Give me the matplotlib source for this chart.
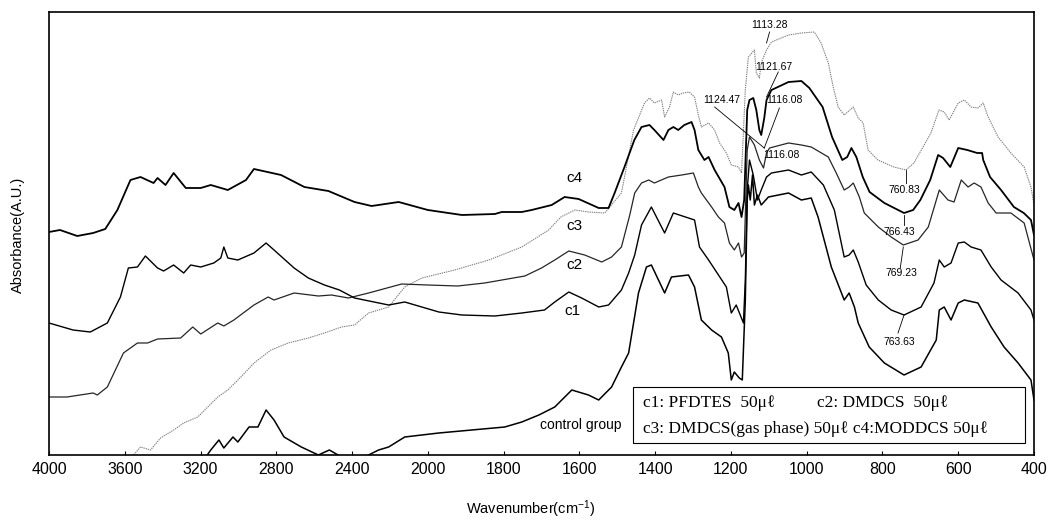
import numpy as np
import matplotlib
matplotlib.use("Agg")
from matplotlib import pyplot as plt
from matplotlib.patches import Rectangle

# spectra: wavenumber (cm-1) and absorbance (a.u.)
c4_wn = [4000, 3942, 3851, 3767, 3703, 3639, 3570, 3517, 3448, 3427, 3385, 3342, 3278, 3199, 3146,
         3056, 2960, 2918, 2775, 2652, 2525, 2387, 2297, 2154, 2000, 1910, 1823, 1805, 1752, 1726,
         1673, 1639, 1602, 1549, 1523, 1507, 1481, 1455, 1436, 1415, 1402, 1378, 1365, 1352, 1339,
         1323, 1304, 1296, 1286, 1270, 1259, 1243, 1217, 1204, 1191, 1180, 1172, 1165, 1157, 1151,
         1141, 1133, 1125, 1120, 1112, 1106, 1093, 1048, 1014, 993, 958, 933, 906, 893, 882, 869,
         852, 834, 795, 743, 719, 700, 674, 653, 640, 621, 600, 576, 550, 537, 534, 516, 487, 453,
         427, 408, 400]
c4_abs = [2.23, 2.25, 2.19, 2.22, 2.26, 2.45, 2.75, 2.78, 2.72, 2.77, 2.70, 2.82, 2.67, 2.67, 2.70,
          2.65, 2.75, 2.86, 2.80, 2.68, 2.64, 2.53, 2.49, 2.53, 2.45, 2.40, 2.41, 2.43, 2.43, 2.45,
          2.50, 2.58, 2.56, 2.47, 2.47, 2.62, 2.88, 3.15, 3.28, 3.30, 3.25, 3.15, 3.25, 3.28, 3.25,
          3.30, 3.33, 3.25, 3.05, 2.95, 2.98, 2.85, 2.68, 2.48, 2.45, 2.52, 2.38, 2.55, 3.45, 3.55,
          3.57, 3.45, 3.25, 3.20, 3.37, 3.55, 3.65, 3.73, 3.74, 3.67, 3.48, 3.18, 2.95, 2.98, 3.07, 2.98,
          2.78, 2.63, 2.52, 2.42, 2.45, 2.55, 2.75, 3.00, 2.97, 2.88, 3.07, 3.05, 3.02, 3.02, 2.95, 2.78, 2.65, 2.48,
          2.42, 2.35, 2.20]

c3_wn = [3597, 3554, 3517, 3464, 3411, 3342, 3289, 3215, 3162, 3109, 3056, 2987, 2918, 2828, 2737,
         2631, 2546, 2456, 2387, 2313, 2207, 2122, 2032, 1929, 1839, 1752, 1681, 1649, 1612, 1576,
         1533, 1489, 1457, 1428, 1415, 1402, 1383, 1375, 1362, 1352, 1339, 1326, 1310, 1296, 1286,
         1278, 1259, 1243, 1230, 1212, 1199, 1180, 1172, 1162, 1154, 1138, 1133, 1125, 1120, 1106,
         1093, 1048, 1014, 980, 962, 943, 930, 917, 901, 877, 864, 851, 838, 812, 770, 738, 717, 693,
         672, 651, 637, 624, 600, 584, 566, 548, 534, 521, 495, 461, 426, 408, 400]
c3_abs = [-0.10, 0.00, 0.08, 0.05, 0.17, 0.25, 0.32, 0.38, 0.48, 0.58, 0.65, 0.78, 0.92, 1.05, 1.12,
          1.17, 1.22, 1.28, 1.30, 1.42, 1.48, 1.68, 1.77, 1.85, 1.95, 2.08, 2.25, 2.38, 2.45, 2.43,
          2.42, 2.62, 3.25, 3.52, 3.57, 3.52, 3.55, 3.38, 3.48, 3.63, 3.60, 3.62, 3.63, 3.58, 3.40,
          3.28, 3.32, 3.25, 3.12, 3.02, 2.90, 2.88, 2.82, 3.65, 3.98, 4.05, 3.82, 3.77, 3.92, 4.05,
          4.13, 4.20, 4.22, 4.23, 4.12, 3.92, 3.68, 3.48, 3.40, 3.48, 3.37, 3.32, 3.05, 2.95, 2.88, 2.85, 2.92, 3.08,
          3.22, 3.45, 3.43, 3.35, 3.52, 3.55, 3.48, 3.47, 3.52, 3.38, 3.18, 3.02, 2.88, 2.68, 2.50]

c2_wn = [4000, 3905, 3767, 3745, 3692, 3607, 3533, 3480, 3427, 3305, 3241, 3199, 3109, 3077, 3024,
         2918, 2843, 2812, 2706, 2578, 2509, 2419, 2313, 2138, 2000, 1921, 1850, 1744, 1700, 1665,
         1628, 1586, 1541, 1515, 1489, 1467, 1454, 1436, 1417, 1402, 1365, 1330, 1299, 1286, 1278,
         1251, 1233, 1217, 1204, 1191, 1180, 1172, 1165, 1157, 1151, 1146, 1138, 1125, 1114, 1106,
         1098, 1048, 1014, 988, 943, 922, 901, 888, 877, 861, 848, 811, 777, 745, 706, 679, 650, 627,
         611, 592, 574, 558, 540, 521, 500, 461, 426, 400]
c2_abs = [0.58, 0.58, 0.62, 0.60, 0.68, 1.02, 1.12, 1.12, 1.16, 1.17, 1.28, 1.21, 1.32, 1.29, 1.35,
          1.50, 1.58, 1.55, 1.62, 1.59, 1.60, 1.57, 1.62, 1.71, 1.70, 1.69, 1.72, 1.79, 1.87, 1.95,
          2.04, 2.00, 1.93, 1.98, 2.08, 2.40, 2.62, 2.72, 2.75, 2.72, 2.78, 2.80, 2.82, 2.68, 2.62,
          2.48, 2.38, 2.32, 2.12, 2.05, 2.12, 1.98, 2.02, 3.05, 3.18, 3.15, 3.10, 2.95, 2.87, 3.02,
          3.07, 3.12, 3.10, 3.08, 2.98, 2.82, 2.65, 2.68, 2.72, 2.58, 2.42, 2.28, 2.18, 2.10, 2.15, 2.28, 2.65, 2.55,
          2.53, 2.75, 2.68, 2.72, 2.68, 2.52, 2.42, 2.42, 2.32, 1.95]

c1_wn = [4000, 3873, 3782, 3692, 3623, 3581, 3533, 3491, 3427, 3395, 3342, 3289, 3252, 3199, 3130,
         3093, 3077, 3056, 3003, 2918, 2854, 2812, 2706, 2631, 2546, 2467, 2387, 2207, 2122, 1971,
         1910, 1823, 1752, 1692, 1665, 1628, 1594, 1549, 1523, 1489, 1470, 1454, 1436, 1410, 1375,
         1352, 1296, 1283, 1259, 1212, 1199, 1186, 1167, 1162, 1157, 1151, 1141, 1130, 1120, 1106,
         1093, 1048, 1014, 988, 956, 927, 901, 888, 877, 864, 843, 811, 777, 743, 698, 664, 650, 637,
         619, 600, 584, 566, 540, 513, 487, 442, 408, 400]
c1_abs = [1.32, 1.25, 1.23, 1.32, 1.58, 1.87, 1.88, 1.99, 1.87, 1.84, 1.90, 1.82, 1.90, 1.88, 1.92,
          1.97, 2.08, 1.97, 1.95, 2.02, 2.12, 2.05, 1.87, 1.77, 1.70, 1.65, 1.57, 1.50, 1.53, 1.43,
          1.40, 1.39, 1.42, 1.45, 1.53, 1.63, 1.57, 1.48, 1.50, 1.65, 1.82, 2.00, 2.30, 2.48, 2.22,
          2.42, 2.35, 2.08, 1.95, 1.68, 1.42, 1.50, 1.32, 1.75, 2.65, 2.95, 2.80, 2.55, 2.65, 2.78,
          2.82, 2.85, 2.80, 2.83, 2.70, 2.45, 1.98, 2.00, 2.05, 1.93, 1.70, 1.55, 1.45, 1.40, 1.48, 1.72, 1.95, 1.88,
          1.92, 2.12, 2.13, 2.08, 2.05, 1.88, 1.75, 1.62, 1.45, 1.35]

ctrl_wn = [3225, 3172, 3146, 3103, 3077, 3029, 3003, 2944, 2897, 2854, 2812, 2759, 2668, 2578, 2520,
           2456, 2387, 2313, 2260, 2207, 2122, 2032, 1971, 1884, 1797, 1752, 1707, 1665, 1620, 1576,
           1549, 1515, 1489, 1470, 1444, 1423, 1410, 1375, 1357, 1312, 1296, 1278, 1251, 1225, 1207,
           1199, 1191, 1178, 1170, 1162, 1157, 1154, 1149, 1143, 1138, 1130, 1120, 1101, 1048, 1014,
           988, 970, 935, 901, 888, 874, 864, 835, 795, 743, 698, 658, 650, 637, 619, 600, 584, 548,
           513, 479, 442, 408, 400]
ctrl_abs = [-0.07, -0.02, 0.05, 0.15, 0.07, 0.18, 0.13, 0.28, 0.28, 0.45, 0.35, 0.18, 0.08, 0.00, 0.05,
            -0.02, -0.07, 0.00, 0.05, 0.08, 0.18, 0.20, 0.22, 0.25, 0.28, 0.33, 0.40, 0.48, 0.65, 0.60,
            0.55, 0.68, 0.88, 1.02, 1.62, 1.88, 1.90, 1.62, 1.78, 1.80, 1.68, 1.35, 1.25, 1.18, 1.02,
            0.75, 0.83, 0.77, 0.75, 1.55, 2.55, 2.70, 2.55, 2.80, 2.50, 2.60, 2.50, 2.58, 2.62, 2.55,
            2.57, 2.38, 1.88, 1.55, 1.62, 1.48, 1.32, 1.08, 0.92, 0.80, 0.88, 1.15, 1.45, 1.48, 1.35, 1.52, 1.55, 1.52,
            1.28, 1.08, 0.92, 0.75, 0.55]

xticks = [4000, 3600, 3200, 2800, 2400, 2000, 1800, 1600, 1400, 1200, 1000, 800, 600, 400]

# curve labels next to the 1640 band
curve_labels = [("c4", 1612, 2.77), ("c3", 1612, 2.29), ("c2", 1612, 1.90), ("c1", 1618, 1.44),
                ("control group", 1597, 0.30)]

# peak labels: text, text pos, leader line (start, end)
peaks = [
    ("1113.28", 1098, 4.30, (1098, 4.23), (1106, 4.12)),
    ("1121.67", 1088, 3.88, (1075, 3.83), (1106, 3.58)),
    ("1124.47", 1225, 3.55, (1243, 3.48), (1112, 3.07)),
    ("1116.08", 1059, 3.55, (1072, 3.47), (1112, 3.07)),
    ("1116.08", 1067, 3.00, None, None),
    ("760.83", 743, 2.65, (737, 2.85), (737, 2.72)),
    ("766.43", 756, 2.23, (743, 2.40), (743, 2.30)),
    ("769.23", 751, 1.82, (745, 2.08), (753, 1.87)),
    ("763.63", 756, 1.13, (743, 1.40), (759, 1.22)),
]


def fwd(x):
    x = np.asarray(x, dtype=float)
    return np.where(x >= 2000, x / 2 + 1000, x)


def inv(y):
    y = np.asarray(y, dtype=float)
    return np.where(y >= 2000, (y - 1000) * 2, y)


sans = ["Liberation Sans", "DejaVu Sans"]
serif = ["Liberation Serif", "DejaVu Serif"]
plt.rcParams["font.family"] = sans
plt.rcParams["mathtext.default"] = "regular"

fig = plt.figure(figsize=(10.61, 5.23), dpi=100)
ax = fig.add_axes([49 / 1061, 68 / 523, 985 / 1061, 443 / 523])
ax.set_xscale("function", functions=(fwd, inv))

ax.plot(c3_wn, c3_abs, color="0.5", lw=0.8, ls=(0, (1.2, 0.8)))
ax.plot(c4_wn, c4_abs, color="black", lw=1.3)
ax.plot(c2_wn, c2_abs, color="0.15", lw=0.9)
ax.plot(c1_wn, c1_abs, color="black", lw=1.0)
ax.plot(ctrl_wn, ctrl_abs, color="black", lw=1.1)

ax.set_xlim(4000, 400)
ax.set_ylim(0, 4.43)
ax.set_xticks(xticks)
ax.set_xticklabels([str(t) for t in xticks], fontsize=11.5)
ax.set_yticks([])
ax.tick_params(axis="x", direction="in", length=3, width=0.8, pad=5)
for s in ax.spines.values():
    s.set_linewidth(1.2)

ax.set_xlabel(r"Wavenumber(cm$^{-1}$)", fontsize=10.5)
ax.xaxis.set_label_coords(0.489, -0.098)
ax.set_ylabel("Absorbance(A.U.)", fontsize=10.5)
ax.yaxis.set_label_coords(-0.024, 0.497)

for name, x, y in curve_labels:
    ax.text(x, y, name, fontsize=11 if len(name) < 3 else 10, ha="center", va="center")

for txt, tx, ty, p0, p1 in peaks:
    ax.text(tx, ty, txt, fontsize=7.5, ha="center", va="center")
    if p0 is not None:
        ax.plot([p0[0], p1[0]], [p0[1], p1[1]], color="black", lw=0.6)

# legend box
ax.add_patch(Rectangle((0.593, 0.027), 0.398, 0.1265, transform=ax.transAxes,
                       facecolor="white", edgecolor="black", lw=0.8, zorder=5))
ax.text(0.603, 0.117, "c1: PFDTES  50μℓ", transform=ax.transAxes, family=serif,
        fontsize=12.5, va="center", zorder=6)
ax.text(0.780, 0.117, "c2: DMDCS  50μℓ", transform=ax.transAxes, family=serif,
        fontsize=12.5, va="center", zorder=6)
ax.text(0.603, 0.059, "c3: DMDCS(gas phase) 50μℓ c4:MODDCS 50μℓ", transform=ax.transAxes,
        family=serif, fontsize=12.5, va="center", zorder=6)

fig.savefig("out.png", dpi=100)
